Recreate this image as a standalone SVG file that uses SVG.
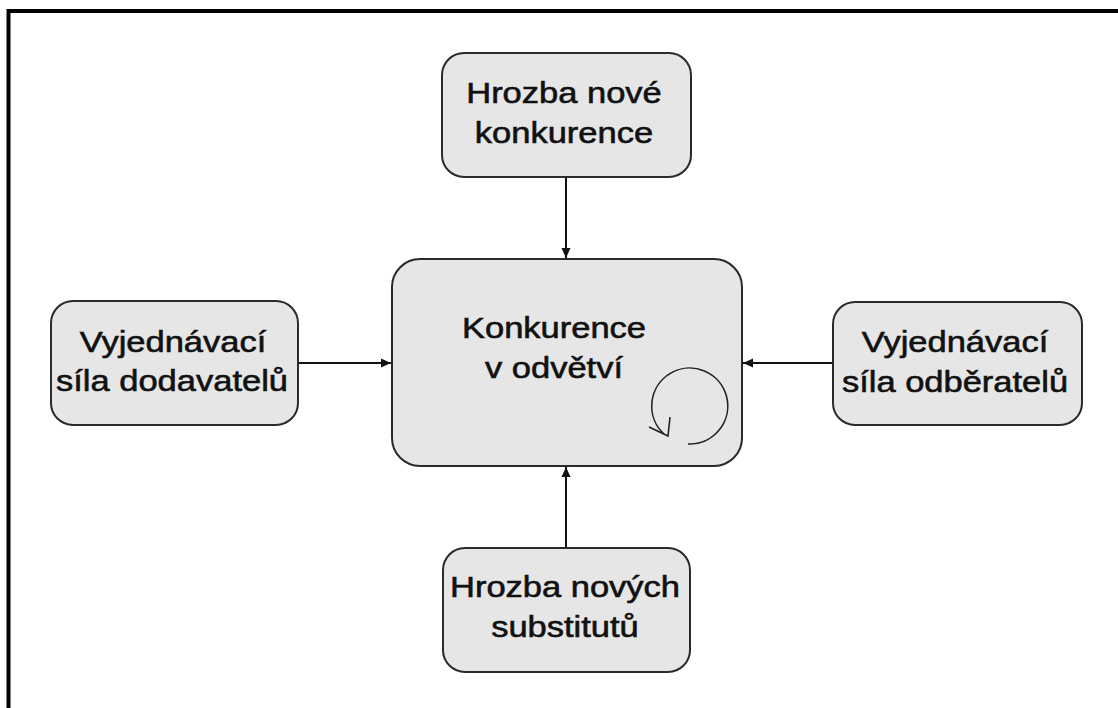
<svg xmlns="http://www.w3.org/2000/svg" width="1118" height="708" viewBox="0 0 1118 708">
  <defs>
    <style>
      .box { fill: #e6e6e6; stroke: #2a2a2a; stroke-width: 2; }
      .lbl { font-family: "Liberation Sans", Arial, sans-serif; font-size: 30px; fill: #111; stroke: #111; stroke-width: 0.6; text-anchor: middle; }
      .conn { stroke: #111; stroke-width: 2; fill: none; }
    </style>
    <marker id="arr" viewBox="0 0 10 10" refX="10" refY="5" markerWidth="10" markerHeight="10" markerUnits="userSpaceOnUse" orient="auto">
      <path d="M0,0.5 L10,5 L0,9.5 Z" fill="#111"/>
    </marker>
  </defs>
  <rect x="0" y="0" width="1118" height="708" fill="#fff"/>
  <path d="M8.5,708 V11 H1118" fill="none" stroke="#000" stroke-width="4"/>

  <g id="connectors">
    <line class="conn" x1="566" y1="177" x2="566" y2="258" marker-end="url(#arr)"/>
    <line class="conn" x1="298" y1="363" x2="391" y2="363" marker-end="url(#arr)"/>
    <line class="conn" x1="833" y1="363" x2="743" y2="363" marker-end="url(#arr)"/>
    <line class="conn" x1="566" y1="548" x2="566" y2="467" marker-end="url(#arr)"/>
  </g>

  <g id="node-center">
    <rect class="box" x="392" y="259" width="350" height="207" rx="28" ry="28"/>
    <text class="lbl" transform="translate(554,338) scale(1.15,1)">Konkurence</text>
    <text class="lbl" transform="translate(554,378) scale(1.15,1)">v odvětví</text>
    <path d="M688,444 A38,38 0 1 0 664,434" fill="none" stroke="#222" stroke-width="1.6"/>
    <polyline points="649,427 668,436 670,417" fill="none" stroke="#222" stroke-width="1.6"/>
  </g>

  <g id="node-top">
    <rect class="box" x="442" y="53" width="249" height="124" rx="22" ry="22"/>
    <text class="lbl" transform="translate(564,103) scale(1.15,1)">Hrozba nové</text>
    <text class="lbl" transform="translate(564,143) scale(1.15,1)">konkurence</text>
  </g>

  <g id="node-left">
    <rect class="box" x="51" y="301" width="247" height="124" rx="22" ry="22"/>
    <text class="lbl" transform="translate(173,352) scale(1.15,1)">Vyjednávací</text>
    <text class="lbl" transform="translate(172,391) scale(1.15,1)">síla dodavatelů</text>
  </g>

  <g id="node-right">
    <rect class="box" x="833" y="302" width="249" height="123" rx="22" ry="22"/>
    <text class="lbl" transform="translate(955,352) scale(1.15,1)">Vyjednávací</text>
    <text class="lbl" transform="translate(955,392) scale(1.15,1)">síla odběratelů</text>
  </g>

  <g id="node-bottom">
    <rect class="box" x="443" y="548" width="247" height="124" rx="22" ry="22"/>
    <text class="lbl" transform="translate(565,597) scale(1.15,1)">Hrozba nových</text>
    <text class="lbl" transform="translate(565,637) scale(1.15,1)">substitutů</text>
  </g>
</svg>
